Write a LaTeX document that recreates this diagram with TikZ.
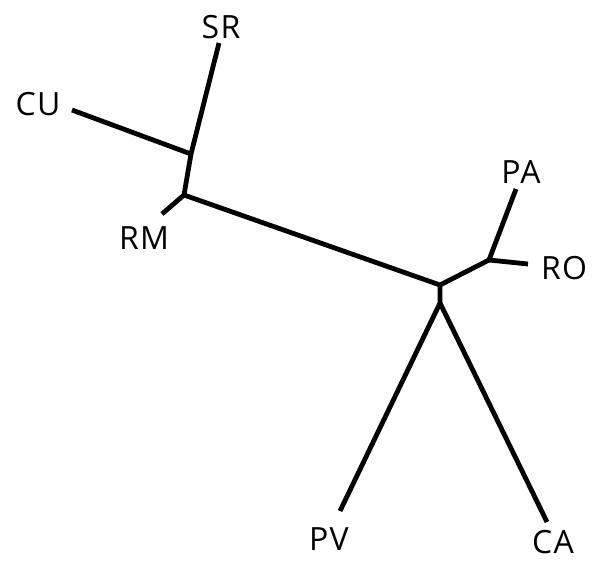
\documentclass[tikz,border=0pt]{standalone}
\usepackage{fontspec}
\setmainfont{Open Sans}
\usetikzlibrary{positioning}

\begin{document}
\begin{tikzpicture}[x=1pt, y=-1pt, branch/.style={line width=4.8pt, line cap=butt, line join=miter},
  taxon/.style={font=\fontsize{32}{32}\selectfont, inner sep=0pt, anchor=center}]
\useasboundingbox (0,0) rectangle (596,560);

% inner nodes of the tree
\coordinate (a) at (191,154);
\coordinate (b) at (184,195);
\coordinate (c) at (440,285);
\coordinate (c2) at (440,303);
\coordinate (d) at (489,260);

% branch ends
\coordinate (tSR) at (219,43);
\coordinate (tCU) at (72,110);
\coordinate (tRM) at (162,214);
\coordinate (tPA) at (516,189);
\coordinate (tRO) at (528,264);
\coordinate (tPV) at (340,511);
\coordinate (tCA) at (547,522);

% labels
\node[taxon] (SR) at (221,27) {\addfontfeature{LetterSpace=4}SR};
\node[taxon] (CU) at (38,104) {\addfontfeature{LetterSpace=4}CU};
\node[taxon] (RM) at (144,238) {\addfontfeature{LetterSpace=4}RM};
\node[taxon] (PA) at (521,172) {\addfontfeature{LetterSpace=4}PA};
\node[taxon] (RO) at (564,268) {\addfontfeature{LetterSpace=4}RO};
\node[taxon] (PV) at (329,539) {\addfontfeature{LetterSpace=4}PV};
\node[taxon] (CA) at (553,542) {\addfontfeature{LetterSpace=4}CA};

\draw[branch] (tSR) -- (a) -- (b) -- (c) -- (d) -- (tPA);
\draw[branch] (tCU) -- (a);
\draw[branch] (b) -- (tRM);
\draw[branch] (d) -- (tRO);
\draw[branch] (c) -- (c2) -- (tPV);
\draw[branch] (c2) -- (tCA);
\end{tikzpicture}
\end{document}
